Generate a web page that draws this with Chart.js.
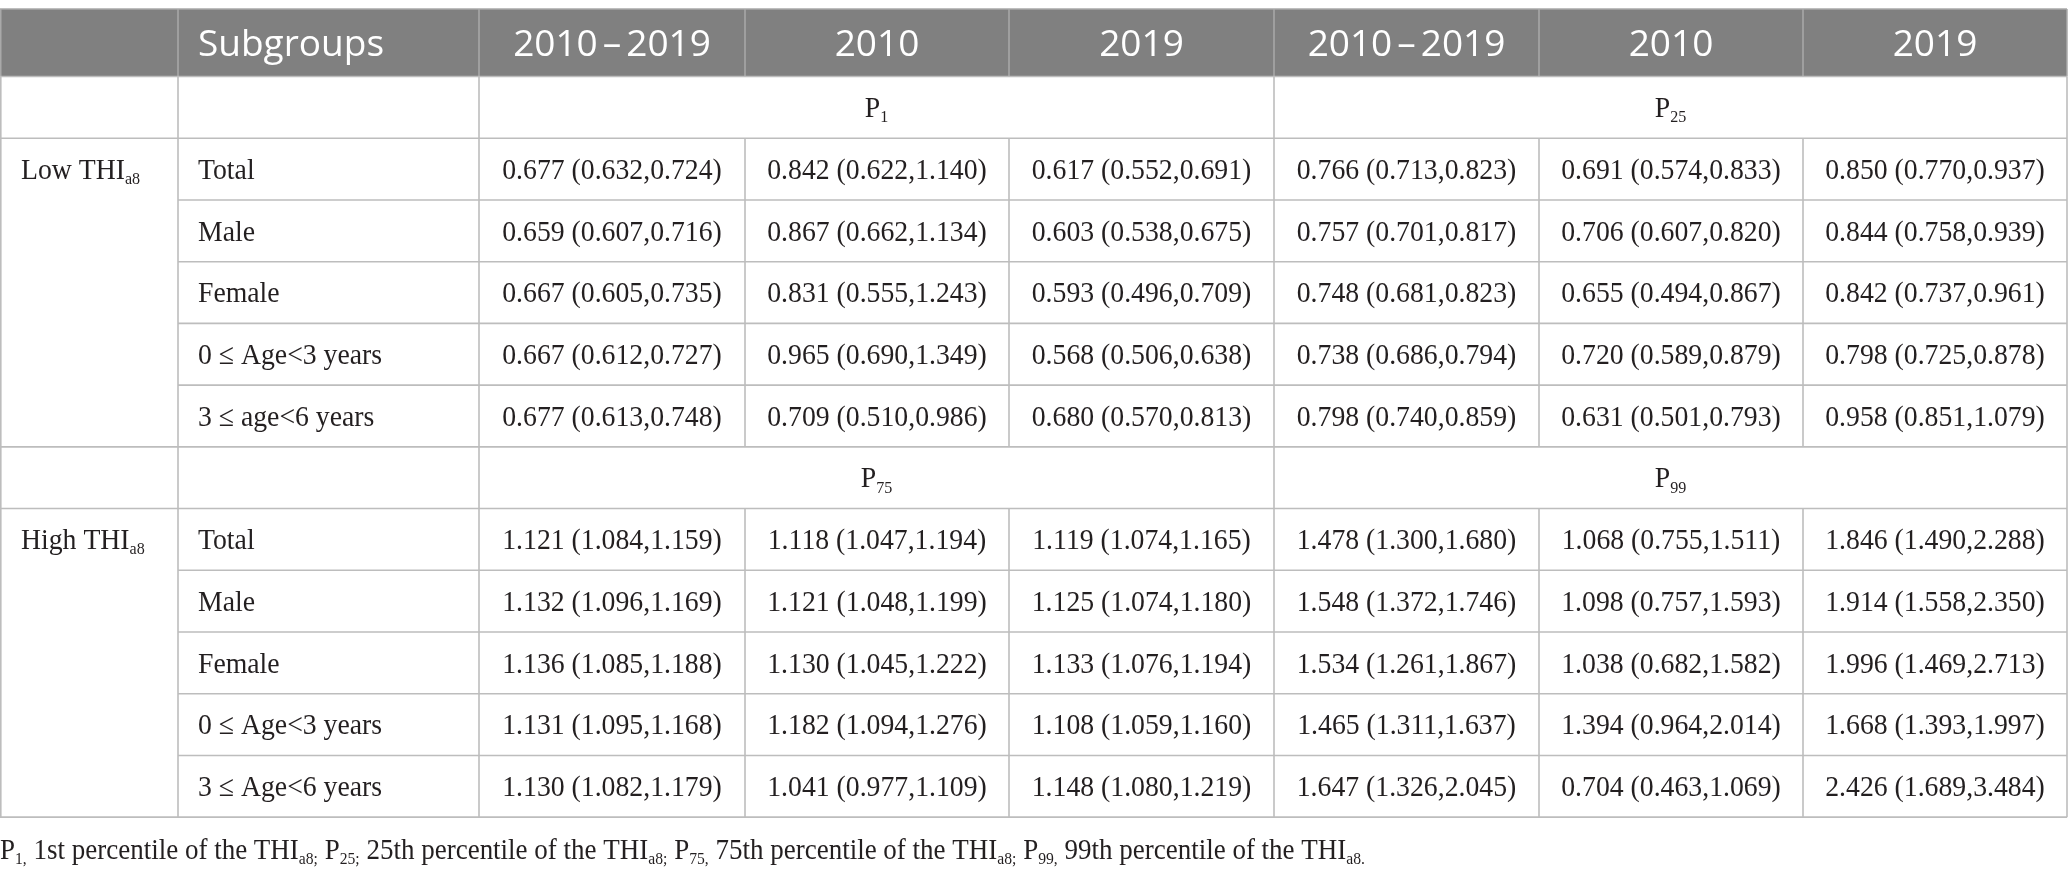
<!DOCTYPE html>
<html>
<head>
<meta charset="utf-8">
<script src="https://cdn.jsdelivr.net/npm/chart.js@4.4.1/dist/chart.umd.min.js"></script>
<style>
  html, body { margin: 0; padding: 0; background: #fff; }
  #wrap { width: 2068px; height: 873px; }
</style>
</head>
<body>
<div id="wrap"><canvas id="chart"></canvas></div>
<script>
// table content
const headers = ["", "Subgroups", "2010–2019", "2010", "2019", "2010–2019", "2010", "2019"];
const groups = ["Low THI_{a8}", "High THI_{a8}"];
const lowSubgroups = ["Total", "Male", "Female", "0 ≤ Age<3 years", "3 ≤ age<6 years"];
const highSubgroups = ["Total", "Male", "Female", "0 ≤ Age<3 years", "3 ≤ Age<6 years"];
const lowPercentiles = ["P_{1}", "P_{25}"];
const highPercentiles = ["P_{75}", "P_{99}"];

// [estimate, lower, upper]
const p1_2010_2019 = [[0.677, 0.632, 0.724], [0.659, 0.607, 0.716], [0.667, 0.605, 0.735], [0.667, 0.612, 0.727], [0.677, 0.613, 0.748]];
const p1_2010 = [[0.842, 0.622, 1.140], [0.867, 0.662, 1.134], [0.831, 0.555, 1.243], [0.965, 0.690, 1.349], [0.709, 0.510, 0.986]];
const p1_2019 = [[0.617, 0.552, 0.691], [0.603, 0.538, 0.675], [0.593, 0.496, 0.709], [0.568, 0.506, 0.638], [0.680, 0.570, 0.813]];
const p25_2010_2019 = [[0.766, 0.713, 0.823], [0.757, 0.701, 0.817], [0.748, 0.681, 0.823], [0.738, 0.686, 0.794], [0.798, 0.740, 0.859]];
const p25_2010 = [[0.691, 0.574, 0.833], [0.706, 0.607, 0.820], [0.655, 0.494, 0.867], [0.720, 0.589, 0.879], [0.631, 0.501, 0.793]];
const p25_2019 = [[0.850, 0.770, 0.937], [0.844, 0.758, 0.939], [0.842, 0.737, 0.961], [0.798, 0.725, 0.878], [0.958, 0.851, 1.079]];
const p75_2010_2019 = [[1.121, 1.084, 1.159], [1.132, 1.096, 1.169], [1.136, 1.085, 1.188], [1.131, 1.095, 1.168], [1.130, 1.082, 1.179]];
const p75_2010 = [[1.118, 1.047, 1.194], [1.121, 1.048, 1.199], [1.130, 1.045, 1.222], [1.182, 1.094, 1.276], [1.041, 0.977, 1.109]];
const p75_2019 = [[1.119, 1.074, 1.165], [1.125, 1.074, 1.180], [1.133, 1.076, 1.194], [1.108, 1.059, 1.160], [1.148, 1.080, 1.219]];
const p99_2010_2019 = [[1.478, 1.300, 1.680], [1.548, 1.372, 1.746], [1.534, 1.261, 1.867], [1.465, 1.311, 1.637], [1.647, 1.326, 2.045]];
const p99_2010 = [[1.068, 0.755, 1.511], [1.098, 0.757, 1.593], [1.038, 0.682, 1.582], [1.394, 0.964, 2.014], [0.704, 0.463, 1.069]];
const p99_2019 = [[1.846, 1.490, 2.288], [1.914, 1.558, 2.350], [1.996, 1.469, 2.713], [1.668, 1.393, 1.997], [2.426, 1.689, 3.484]];

const footnote = "P_{1,} 1st percentile of the THI_{a8;} P_{25;} 25th percentile of the THI_{a8;} P_{75,} 75th percentile of the THI_{a8;} P_{99,} 99th percentile of the THI_{a8.}";

// layout: x in pixels, y in row units (header above 0)
const colEdges = [0, 178, 479, 745, 1009, 1274, 1539, 1803, 2067];
const HEADER_TOP = -1.094;
const N_ROWS = 12;

const SERIF = '"Liberation Serif", "Times New Roman", serif';
const SANS = '"Open Sans", "Noto Sans", sans-serif';
const GRID = "#bdbdbd";

const fmt = v => `${v[0].toFixed(3)} (${v[1].toFixed(3)},${v[2].toFixed(3)})`;
const mid = (a, b) => (colEdges[a] + colEdges[b]) / 2;

// "abc_{sub}def" -> segments; en dashes get their own segment
function parseRich(str) {
  const out = [];
  const re = /_\{([^}]*)\}/g;
  const push = t => t.split(/(–)/).forEach(p => p && out.push({ t: p, sub: false, dash: p === "–" }));
  let last = 0, m;
  while ((m = re.exec(str))) {
    if (m.index > last) push(str.slice(last, m.index));
    out.push({ t: m[1], sub: true });
    last = re.lastIndex;
  }
  if (last < str.length) push(str.slice(last));
  return out;
}

function drawRich(ctx, str, x, y, st, align) {
  const segs = parseRich(str);
  const subSize = st.size * 0.58;
  const pad = st.dashPad || 0;
  let w = 0;
  segs.forEach(s => {
    ctx.font = `${s.sub ? subSize : st.size}px ${st.family}`;
    s.w = ctx.measureText(s.t).width + (s.dash ? 2 * pad : 0);
    w += s.w;
  });
  let x0 = align === "center" ? x - (w * st.sx) / 2 : x;
  ctx.save();
  ctx.translate(x0, y + st.capHalf);
  ctx.scale(st.sx, 1);
  ctx.fillStyle = st.color;
  ctx.textBaseline = "alphabetic";
  ctx.textAlign = "left";
  let cx = 0;
  segs.forEach(s => {
    ctx.font = `${s.sub ? subSize : st.size}px ${st.family}`;
    ctx.fillText(s.t, cx + (s.dash ? pad : 0), s.sub ? st.size * 0.17 : 0);
    cx += s.w;
  });
  ctx.restore();
}

const bodyStyle = { size: 29.5, family: SERIF, sx: 0.94, capHalf: 9.8, color: "#231f20" };
const noteStyle = { size: 29.5, family: SERIF, sx: 0.915, capHalf: 9.8, color: "#231f20" };
const headStyle = { size: 37, family: SANS, sx: 1, capHalf: 13.2, color: "#ffffff", dashPad: 5 };

// points for every text cell
const headerPts = headers.map((h, i) => ({
  x: i === 1 ? colEdges[1] + 20 : mid(i, i + 1), y: HEADER_TOP / 2, text: h, align: i === 1 ? "left" : "center"
}));
const pctPts = [];
[lowPercentiles, highPercentiles].forEach((pp, b) => {
  pctPts.push({ x: mid(2, 5), y: b * 6 + 0.5, text: pp[0], align: "center" });
  pctPts.push({ x: mid(5, 8), y: b * 6 + 0.5, text: pp[1], align: "center" });
});
const groupPts = groups.map((g, b) => ({ x: 21, y: b * 6 + 1.5, text: g, align: "left" }));
const subPts = [];
[lowSubgroups, highSubgroups].forEach((sg, b) => {
  sg.forEach((s, r) => subPts.push({ x: colEdges[1] + 20, y: b * 6 + r + 1.5, text: s, align: "left" }));
});
const valuePts = [];
const blocks = [
  [p1_2010_2019, p1_2010, p1_2019, p25_2010_2019, p25_2010, p25_2019],
  [p75_2010_2019, p75_2010, p75_2019, p99_2010_2019, p99_2010, p99_2019]
];
blocks.forEach((cols, b) => {
  cols.forEach((col, c) => {
    col.forEach((v, r) => valuePts.push({ x: mid(c + 2, c + 3), y: b * 6 + r + 1.5, text: fmt(v), align: "center" }));
  });
});
const notePts = [{ x: 0, y: 12.52, text: footnote, align: "left" }];

const tablePlugin = {
  id: "tableGrid",
  beforeDatasetsDraw(chart) {
    const { ctx, scales: { x, y } } = chart;
    const X = v => x.getPixelForValue(v);
    const Y = v => y.getPixelForValue(v);
    ctx.save();
    // header band
    ctx.fillStyle = "#808080";
    ctx.fillRect(X(colEdges[0]), Y(HEADER_TOP), X(colEdges[8]) - X(colEdges[0]), Y(0) - Y(HEADER_TOP));
    ctx.strokeStyle = "#a9a9a9";
    ctx.lineWidth = 1.5;
    ctx.beginPath();
    ctx.moveTo(X(colEdges[0]), Y(HEADER_TOP));
    ctx.lineTo(X(colEdges[8]), Y(HEADER_TOP));
    colEdges.forEach(e => {
      ctx.moveTo(X(e) + (e === 0 ? 0.75 : 0), Y(HEADER_TOP));
      ctx.lineTo(X(e) + (e === 0 ? 0.75 : 0), Y(0));
    });
    ctx.stroke();

    // body grid
    ctx.strokeStyle = GRID;
    ctx.lineWidth = 1.6;
    ctx.beginPath();
    for (let r = 0; r <= N_ROWS; r++) {
      const full = [0, 1, 6, 7, 12].includes(r);
      ctx.moveTo(X(full ? colEdges[0] : colEdges[1]), Y(r));
      ctx.lineTo(X(colEdges[8]), Y(r));
    }
    colEdges.forEach((e, i) => {
      const px = X(e) + (i === 0 ? 0.8 : 0);
      if ([0, 1, 2, 5, 8].includes(i)) {
        ctx.moveTo(px, Y(0));
        ctx.lineTo(px, Y(N_ROWS));
      } else {
        ctx.moveTo(px, Y(1)); ctx.lineTo(px, Y(6));
        ctx.moveTo(px, Y(7)); ctx.lineTo(px, Y(12));
      }
    });
    ctx.stroke();
    ctx.restore();
  },
  afterDatasetsDraw(chart) {
    const ctx = chart.ctx;
    chart.data.datasets.forEach((ds, di) => {
      const meta = chart.getDatasetMeta(di);
      meta.data.forEach((el, i) => {
        const d = ds.data[i];
        drawRich(ctx, d.text, el.x, el.y, ds.textStyle, d.align);
      });
    });
  }
};

const mk = (label, data, textStyle) => ({ label, data, textStyle, pointRadius: 0, showLine: false });

new Chart(document.getElementById("chart"), {
  type: "scatter",
  data: {
    datasets: [
      mk("Header", headerPts, headStyle),
      mk("Percentile", pctPts, bodyStyle),
      mk("Group", groupPts, bodyStyle),
      mk("Subgroup", subPts, bodyStyle),
      mk("Value", valuePts, bodyStyle),
      mk("Note", notePts, noteStyle)
    ]
  },
  options: {
    responsive: true,
    maintainAspectRatio: false,
    animation: false,
    events: [],
    layout: { padding: 0 },
    plugins: { legend: { display: false }, tooltip: { enabled: false } },
    scales: {
      x: { type: "linear", display: false, min: 0, max: 2068 },
      y: { type: "linear", display: false, reverse: true, min: -1.24, max: 12.905 }
    }
  },
  plugins: [tablePlugin]
});
</script>
</body>
</html>
